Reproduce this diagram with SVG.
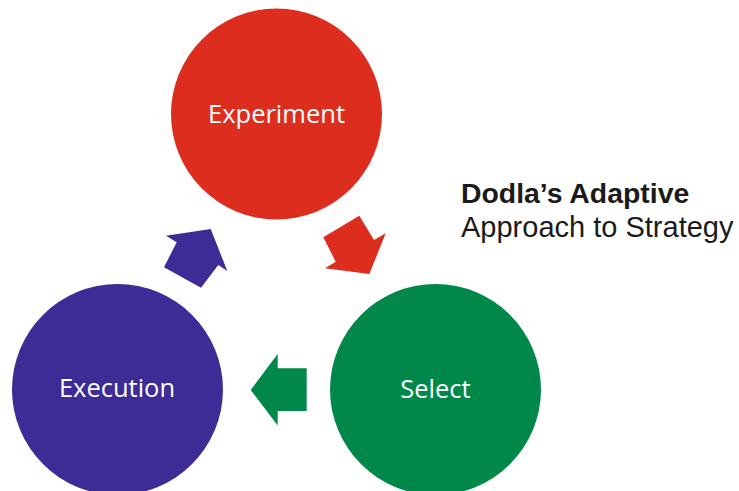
<svg xmlns="http://www.w3.org/2000/svg" width="739" height="491" viewBox="0 0 739 491">
<style>
.lbl{font-family:"Open Sans","Noto Sans",sans-serif;font-size:25.5px;fill:#ffffff;text-anchor:middle}
.red{fill:#DD2D1F}
.purple{fill:#3D2C96}
.green{fill:#00884A}
.title{font-family:"Liberation Sans",Arial,sans-serif;fill:#1a1a1a}
</style>
<rect width="739" height="491" fill="#ffffff"/>
<g id="experiment">
<circle class="red" cx="276.5" cy="114" r="105.5"/>
<text class="lbl" x="276.5" y="122.5">Experiment</text>
</g>
<g id="select">
<circle class="green" cx="435.5" cy="389.5" r="105.5"/>
<text class="lbl" x="435.5" y="397.5">Select</text>
</g>
<g id="execution">
<circle class="purple" cx="117.5" cy="389.5" r="105.5"/>
<text class="lbl" x="117" y="397">Execution</text>
</g>
<g id="connectors">
<polygon class="red" points="359.3,215.7 323.3,237.3 335.7,261.7 325,268.3 369.3,274 385.7,233.3 374,240"/>
<polygon class="green" points="250.7,390 277.7,354 277.7,368.3 306.7,368.3 306.7,411 277.7,411 277.7,425.5"/>
<polygon class="purple" points="210.7,229 227.3,271 218.3,265 201,287.7 164,267.3 176.7,242.3 166,235.7"/>
</g>
<g id="title">
<text class="title" x="461" y="203" font-size="28.4" font-weight="bold">Dodla’s Adaptive</text>
<text class="title" x="461" y="236.5" font-size="29">Approach to Strategy</text>
</g>
</svg>
